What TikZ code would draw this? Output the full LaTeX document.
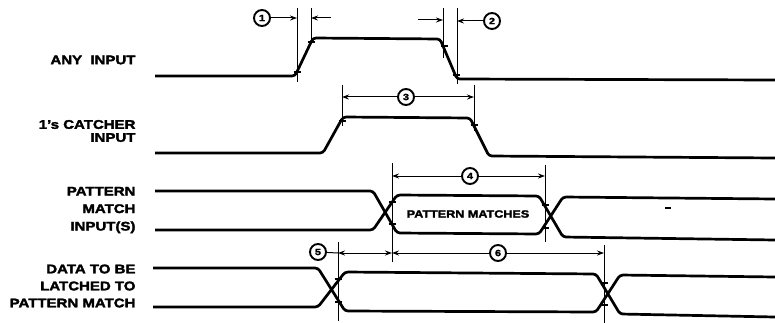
\documentclass[tikz,border=0pt]{standalone}
\usepackage{fontspec}
\setmainfont{Liberation Sans}
\newfontfamily\lblfont{Liberation Sans}[UprightFont=* Bold,FakeStretch=1.2,FakeBold=2.4]
\usetikzlibrary{calc,arrows.meta}
\tikzset{>={Stealth[length=7pt,width=5pt]}}
\tikzset{
  sig/.style={line width=2.7pt,rounded corners=3pt},
  guide/.style={line width=1pt},
  dim/.style={line width=1pt},
  num/.style={circle,draw,line width=1.9pt,inner sep=0pt,minimum size=16pt,
    fill=white,font=\lblfont\fontsize{9}{9}\selectfont},
  lbl/.style={anchor=east,align=right,font=\lblfont\fontsize{12.5}{17.5}\selectfont},
  hatch/.style={line width=1.5pt}
}
\newcommand{\hatchat}[1]{\draw[hatch] ($(#1)+(-3.5,0)$) -- ($(#1)+(3.5,0)$);}

\begin{document}
\begin{tikzpicture}[x=1pt,y=-1pt]
\useasboundingbox (0,0) rectangle (775,323);
% signal names
\node[lbl] (any) at (139,60) {ANY\ \ INPUT};
\node[lbl,font=\lblfont\fontsize{12.5}{13}\selectfont] (catcher) at (139,131) {1’s CATCHER\\INPUT};
\node[lbl] (pmatch) at (139,210) {PATTERN\\MATCH\\INPUT(S)};
\node[lbl,font=\lblfont\fontsize{12.5}{17}\selectfont] (data) at (139,286) {DATA TO BE\\LATCHED TO\\PATTERN MATCH};
% waveforms
\draw[sig] (155,76) -- (295,76) -- (313,38) -- (440,39) -- (457,79) -- (775,80);
\draw[sig] (155,153) -- (323,153) -- (343,117) -- (470,118) -- (489,156) -- (775,158);
\draw[sig] (155,191) -- (373,191) -- (397,233) -- (539,234) -- (563,197) -- (775,199);
\draw[sig] (155,230) -- (373,230) -- (397,195) -- (539,196) -- (563,237) -- (775,240);
\draw[sig] (153,268) -- (318,268) -- (345,311) -- (596,312) -- (620,275) -- (775,277);
\draw[sig] (153,307) -- (318,307) -- (345,272) -- (596,274) -- (620,314) -- (775,317);
\node[font=\lblfont\fontsize{10.5}{11}\selectfont] (matches) at (468,214) {PATTERN MATCHES};
\draw[line width=1.2pt] (665,208) -- (671,208);
% timing guides
\foreach \x/\ya/\yb in {297/8/82, 311/8/42, 443/8/58, 457/8/84, 342/85/126,
    474/85/131, 392/163/262, 545/165/242, 338/242/321, 604/245/323}
  \draw[guide] (\x,\ya) -- (\x,\yb);
\foreach \p in {{297,72},{311,42},{444,46},{456,75},{342,121},{474,125},
    {392,202},{392,224},{545,205},{545,228},{338,279},{338,302},{604,283},{604,305}}
  \hatchat{\p}
% intervals
\coordinate (a1) at (297,18);
\coordinate (a1r) at (311,18);
\coordinate (b1) at (331,18);
\node[num] (n1) at (262,18) {1};
\draw[dim,->] (n1) -- (a1);
\draw[dim,->] (b1) -- (a1r);
\coordinate (b2) at (418,20);
\coordinate (a2) at (443,20);
\coordinate (a2r) at (457,21);
\node[num] (n2) at (492,21) {2};
\draw[dim,->] (b2) -- (a2);
\draw[dim,->] (n2) -- (a2r);
\coordinate (a3) at (342,97);
\coordinate (a3r) at (474,97);
\node[num] (n3) at (406,97) {3};
\draw[dim,->] (n3) -- (a3);
\draw[dim,->] (n3) -- (a3r);
\coordinate (a4) at (392,176);
\coordinate (a4r) at (545,176);
\node[num] (n4) at (470,176) {4};
\draw[dim,->] (n4) -- (a4);
\draw[dim,->] (n4) -- (a4r);
\coordinate (a5) at (338,253);
\coordinate (a5r) at (392,253);
\coordinate (a6r) at (604,253);
\node[num] (n5) at (318,252) {5};
\draw[dim] (n5) -- (a5);
\draw[dim,<->] (a5) -- (a5r);
\node[num] (n6) at (498,253) {6};
\draw[dim,->] (n6) -- (a5r);
\draw[dim,->] (n6) -- (a6r);
\end{tikzpicture}
\end{document}
